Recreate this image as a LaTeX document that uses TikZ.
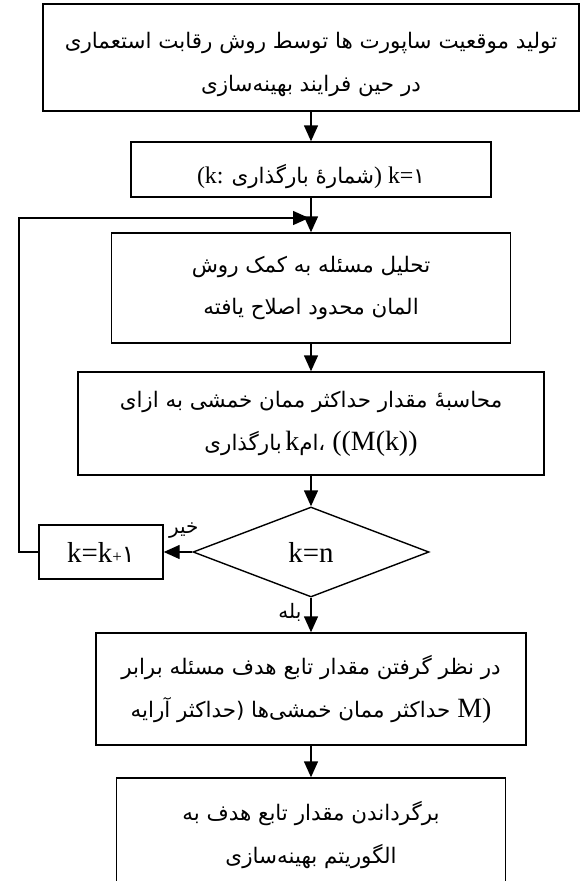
\documentclass[tikz,border=0pt]{standalone}
\usepackage{fontspec}
\setmainfont{Liberation Serif}
\newfontfamily\farsi[Script=Arabic]{DejaVu Sans}
\TeXXeTstate=1
\usetikzlibrary{shapes.geometric,arrows.meta,positioning}
\newcommand{\fa}[1]{{\farsi\beginR #1\endR}}
\newcommand{\lat}[2][26]{{\rmfamily\fontsize{#1}{#1}\selectfont #2}}
\begin{document}
\begin{tikzpicture}[x=1bp,y=-1bp,
    stepbox/.style={draw, line width=1.4bp, inner sep=0pt, align=center,
      font=\farsi\fontsize{21.5}{43}\selectfont},
    testbox/.style={diamond, draw, line width=1.4bp, inner sep=0pt,
      minimum width=236bp, minimum height=90bp, font=\rmfamily\fontsize{29}{30}\selectfont},
    flow/.style={line width=1.4bp, -{Triangle[length=16bp,width=14bp]}},
    lab/.style={font=\farsi\fontsize{20}{22}\selectfont, inner sep=0pt}]
  \useasboundingbox (0,0) rectangle (580,881);
  \clip (0,0) rectangle (580,881);
  % Kaesten
  \node[stepbox, minimum width=536bp, minimum height=107bp] (init) at (311,57.5)
    {\rule{0pt}{31bp}\fa{تولید موقعیت ساپورت ها توسط روش رقابت استعماری}\\ \fa{در حین فرایند بهینه‌سازی}};
  \node[stepbox, minimum width=360bp, minimum height=55bp] (count) at (311,169.5)
    {\rule{0pt}{33bp}\lat[24]{(k: }\fa{شمارهٔ بارگذاری}\lat[24]{) k=}\fa{۱}};
  \node[stepbox, minimum width=399bp, minimum height=110bp] (fem) at (311,288)
    {\fa{تحلیل مسئله به کمک روش}\\ \fa{المان محدود اصلاح یافته}};
  \node[stepbox, minimum width=466bp, minimum height=103bp] (moment) at (311,423.5)
    {\fa{محاسبهٔ مقدار حداکثر ممان خمشی به ازای}\\
     \fa{بارگذاری}\,\lat[28]{k}\fa{ام}،\lat[28]{ ((M(k))}};
  \node[testbox] (test) at (311,552) {k=n};
  \node[stepbox, minimum width=124bp, minimum height=54bp,
    font=\rmfamily\fontsize{29}{30}\selectfont] (incr) at (101,552)
    {k=k{\fontsize{17}{17}\selectfont+}{\farsi\fontsize{24}{24}\selectfont ۱}};
  \node[stepbox, minimum width=430bp, minimum height=112bp] (goal) at (311,689)
    {\fa{در نظر گرفتن مقدار تابع هدف مسئله برابر}\\
     \fa{حداکثر ممان خمشی‌ها (حداکثر آرایه}\lat[28]{ M)}};
  \node[stepbox, minimum width=389bp, minimum height=114bp] (back) at (311,835)
    {\fa{برگرداندن مقدار تابع هدف به}\\ \fa{الگوریتم بهینه‌سازی}};
  % Schleife
  \coordinate (bend) at (19,218);
  \coordinate (join) at (309,218);
  % Linien
  \draw[flow] (init) -- (count);
  \draw[flow] (count) -- (fem);
  \draw[flow] (fem) -- (moment);
  \draw[flow] (moment) -- (test);
  \draw[flow] (test) -- node[lab, pos=0.3, above=13bp] {\fa{خیر}} (incr);
  \draw[flow] (test) -- node[lab, pos=0.42, left=9bp] {\fa{بله}} (goal);
  \draw[flow] (goal) -- (back);
  \draw[flow] (incr.west) -| (bend) -- (join);
\end{tikzpicture}
\end{document}
